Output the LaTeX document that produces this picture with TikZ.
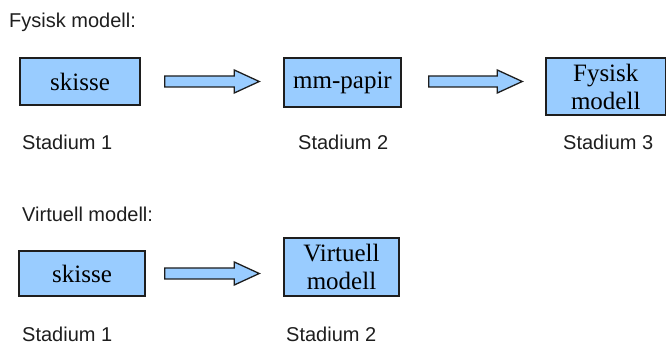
\documentclass[tikz,border=0pt]{standalone}
\usepackage{fontspec}
\setmainfont{Liberation Serif}
\setsansfont{Liberation Sans}
\usetikzlibrary{calc}
\definecolor{boxblue}{HTML}{99CCFF}
\definecolor{inkgray}{HTML}{1E1E1E}
\newcommand\blockarrow[2]{%
  \draw[barrow] ($(#1)+(0,5.5)$) -- ($(#2)+(-25,5.5)$) -- ($(#2)+(-25,11.5)$)
    -- (#2) -- ($(#2)+(-25,-11.5)$) -- ($(#2)+(-25,-5.5)$)
    -- ($(#1)+(0,-5.5)$) -- cycle;}
\begin{document}
\begin{tikzpicture}[x=1pt,y=1pt,
  box/.style={draw=inkgray, fill=boxblue, line width=1.5pt, inner sep=0pt,
    align=center, font=\fontsize{25}{28}\selectfont},
  lbl/.style={anchor=base west, inner sep=0pt, text=inkgray,
    font=\sffamily\fontsize{20}{24}\selectfont},
  barrow/.style={draw=inkgray, fill=boxblue, line width=1.3pt, line join=miter}]
\useasboundingbox (0,0) rectangle (667,347);
% upper row
\node[lbl] (t1) at (9,319) {Fysisk modell:};
\node[box, minimum width=120pt, minimum height=47pt] (b1) at (80,265.5) {skisse};
\node[box, minimum width=117pt, minimum height=49pt] (b2) at (342.5,264.5) {mm-papir};
\node[box, minimum width=119.5pt, minimum height=57pt] (b3) at (605.75,260.5) {Fysisk\\modell};
\node[lbl] (s1) at (22,197) {Stadium 1};
\node[lbl] (s2) at (298,197) {Stadium 2};
\node[lbl] (s3) at (563,197) {Stadium 3};
\coordinate (a1s) at ($(b1.east)+(24,0)$);
\coordinate (a1e) at ($(a1s -| b2.west)+(-24,0)$);
\coordinate (a2s) at ($(b2.east |- a1s)+(27,0)$);
\coordinate (a2e) at ($(a2s -| b3.west)+(-23,0)$);
\blockarrow{a1s}{a1e}
\blockarrow{a2s}{a2e}
% lower row
\node[lbl] (t2) at (22,125) {Virtuell modell:};
\node[box, minimum width=126pt, minimum height=45pt] (b4) at (82,73.5) {skisse};
\node[box, minimum width=115pt, minimum height=58pt] (b5) at (341.5,80) {Virtuell\\modell};
\node[lbl] (s4) at (22,5) {Stadium 1};
\node[lbl] (s5) at (286,5) {Stadium 2};
\coordinate (a3s) at ($(b4.east)+(19,0)$);
\coordinate (a3e) at ($(a3s -| b5.west)+(-24,0)$);
\blockarrow{a3s}{a3e}
\end{tikzpicture}
\end{document}
